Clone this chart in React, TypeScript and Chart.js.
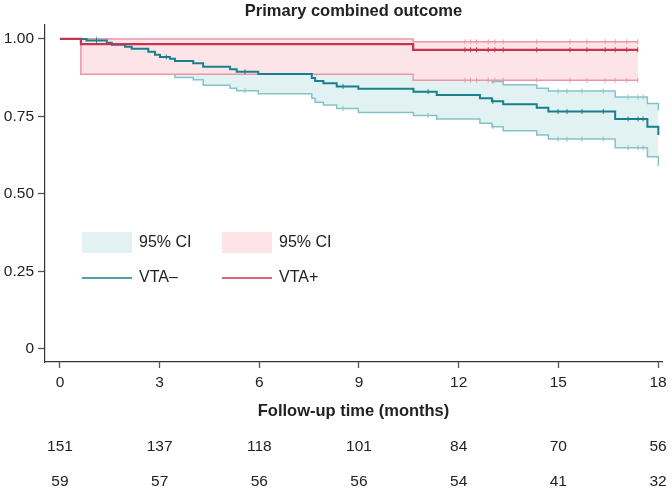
import React, { useEffect, useRef } from "react";
import { Chart, registerables } from "chart.js";

Chart.register(...registerables);

const TITLE = "Primary combined outcome";
const X_TITLE = "Follow-up time (months)";
const xTicks = [0, 3, 6, 9, 12, 15, 18];
const yTicks = [0, 0.25, 0.5, 0.75, 1];
const yTickLabels = ["0", "0.25", "0.50", "0.75", "1.00"];

// VTA– (teal) Kaplan–Meier estimate and 95% CI
const negTimes = [0, 0.8, 1.41, 1.56, 1.96, 2.16, 2.66, 2.86, 3.01, 3.31, 3.46, 4.01, 4.31, 5.12, 5.32, 5.97, 7.58, 7.68, 7.93, 8.33, 8.98, 10.64, 11.34, 12.64, 13.0, 13.34, 14.35, 14.7, 16.71, 17.68, 18.01];
const negSurv = [1.0, 0.995, 0.988, 0.981, 0.975, 0.968, 0.959, 0.949, 0.942, 0.936, 0.929, 0.922, 0.91, 0.902, 0.894, 0.887, 0.874, 0.864, 0.857, 0.847, 0.839, 0.83, 0.819, 0.809, 0.799, 0.789, 0.778, 0.766, 0.742, 0.717, 0.69];
const negLower = [1.0, 0.982, 0.97, 0.96, 0.95, 0.941, 0.928, 0.914, 0.903, 0.89, 0.876, 0.868, 0.851, 0.841, 0.833, 0.823, 0.809, 0.796, 0.787, 0.776, 0.763, 0.753, 0.742, 0.728, 0.717, 0.704, 0.69, 0.677, 0.649, 0.62, 0.59];
const negUpper = [1.0, 1.0, 0.999, 0.996, 0.993, 0.989, 0.983, 0.977, 0.972, 0.968, 0.963, 0.958, 0.95, 0.944, 0.938, 0.932, 0.922, 0.914, 0.908, 0.9, 0.894, 0.887, 0.878, 0.87, 0.863, 0.852, 0.841, 0.832, 0.813, 0.792, 0.77];
const negCensor = [1.1, 3.2, 5.57, 8.52, 11.08, 13.03, 14.99, 15.26, 15.71, 16.35, 17.1, 17.4, 17.55];

// VTA+ (red) Kaplan–Meier estimate and 95% CI
const posTimes = [0, 0.63, 10.63, 17.4];
const posSurv = [1.0, 0.983, 0.965, 0.965];
const posLower = [1.0, 0.886, 0.867, 0.867];
const posUpper = [1.0, 1.0, 0.991, 0.991];
const posCensor = [12.19, 12.36, 12.54, 12.89, 13.09, 13.34, 14.35, 15.35, 15.86, 16.41, 16.71, 17.06, 17.39];

// Numbers at risk
const atRiskNeg = [151, 137, 118, 101, 84, 70, 56];
const atRiskPos = [59, 57, 56, 56, 54, 41, 32];

const legendCI = ["95% CI", "95% CI"];
const legendLines = ["VTA–", "VTA+"];

const TEAL = "#17808b";
const TEAL_CI = "#86c3c8";
const TEAL_FILL = "#e2f2f3";
const RED = "#c8344f";
const RED_CI = "#ec97a7";
const RED_FILL = "#fde4e9";
const FONT = '"Liberation Sans", Arial, Helvetica, sans-serif';

function stepAt(times: number[], vals: number[], t: number) {
  let v = vals[0];
  for (let i = 0; i < times.length; i++) if (times[i] <= t) v = vals[i];
  return v;
}
const pts = (times: number[], vals: number[]) => times.map((t, i) => ({ x: t, y: vals[i] }));
const censorPts = (times: number[], vals: number[], cens: number[]) =>
  cens.map((t) => ({ x: t, y: stepAt(times, vals, t) }));

const stepLine = (data: any[], color: string, width: number, extra: any = {}) => ({
  type: "line",
  data,
  stepped: "before",
  borderColor: color,
  borderWidth: width,
  pointRadius: 0,
  fill: false,
  tension: 0,
  ...extra,
});

const censorSet = (data: any[], color: string) => ({
  type: "line",
  data,
  showLine: false,
  pointStyle: "line",
  rotation: 90,
  pointRadius: 2.5,
  pointBorderWidth: 1,
  borderColor: color,
  pointBorderColor: color,
  backgroundColor: color,
  fill: false,
});

const extrasPlugin = {
  id: "extras",
  afterDraw(chart: any) {
    const { ctx, chartArea } = chart;
    const xs = chart.scales.x;
    ctx.save();
    // numbers at risk
    ctx.font = `15.5px ${FONT}`;
    ctx.fillStyle = "#222";
    ctx.textAlign = "center";
    ctx.textBaseline = "middle";
    xTicks.forEach((t, i) => {
      const px = xs.getPixelForValue(t);
      ctx.fillText(String(atRiskNeg[i]), px, 447);
      ctx.fillText(String(atRiskPos[i]), px, 482);
    });
    // legend
    const fills = [TEAL_FILL, RED_FILL];
    const lines = [TEAL, RED];
    const colX = [chartArea.left + 37, chartArea.left + 177];
    ctx.font = `16px ${FONT}`;
    ctx.textAlign = "left";
    for (let c = 0; c < 2; c++) {
      const x0 = colX[c];
      ctx.fillStyle = fills[c];
      ctx.fillRect(x0, 232, 50, 21);
      ctx.fillStyle = "#222";
      ctx.fillText(legendCI[c], x0 + 57, 242.5);
      ctx.strokeStyle = lines[c];
      ctx.lineWidth = 1.6;
      ctx.beginPath();
      ctx.moveTo(x0, 278);
      ctx.lineTo(x0 + 50, 278);
      ctx.stroke();
      ctx.fillText(legendLines[c], x0 + 57, 278);
    }
    ctx.restore();
  },
};

export default function App() {
  const ref = useRef<HTMLCanvasElement | null>(null);
  useEffect(() => {
    const canvas = ref.current;
    if (!canvas) return;
    // dataset index 0 is drawn on top; fills are drawn just before their own dataset
    const datasets: any[] = [
      censorSet(censorPts(posTimes, posSurv, posCensor), RED), // 0
      censorSet(censorPts(posTimes, posUpper, posCensor), RED_CI), // 1
      censorSet(censorPts(posTimes, posLower, posCensor), RED_CI), // 2
      stepLine(pts(posTimes, posSurv), RED, 2.2), // 3
      censorSet(censorPts(negTimes, negSurv, negCensor), TEAL), // 4
      stepLine(pts(negTimes, negSurv), TEAL, 2), // 5
      stepLine(pts(posTimes, posUpper), RED_CI, 1.5), // 6
      stepLine(pts(posTimes, posLower), RED_CI, 1.5, { fill: 6, backgroundColor: RED_FILL }), // 7
      censorSet(censorPts(negTimes, negUpper, negCensor), TEAL_CI), // 8
      censorSet(censorPts(negTimes, negLower, negCensor), TEAL_CI), // 9
      stepLine(pts(negTimes, negUpper), TEAL_CI, 1.5), // 10
      stepLine(pts(negTimes, negLower), TEAL_CI, 1.5, { fill: 10, backgroundColor: TEAL_FILL }), // 11
    ];
    const chart = new Chart(canvas, {
      type: "line",
      data: { datasets },
      plugins: [extrasPlugin],
      options: {
        animation: false,
        responsive: false,
        devicePixelRatio: 1,
        events: [],
        layout: { padding: { left: 0, right: 10, top: 0, bottom: 71 } },
        plugins: {
          legend: { display: false },
          tooltip: { enabled: false },
          title: {
            display: true,
            text: TITLE,
            fullSize: false,
            color: "#222",
            font: { family: FONT, size: 16.5, weight: "bold", lineHeight: 1.2 },
            padding: { top: 2, bottom: 3.2 },
          },
          filler: { drawTime: "beforeDatasetDraw" },
        },
        scales: {
          x: {
            type: "linear",
            min: -0.45,
            max: 18.12,
            afterBuildTicks: (axis: any) => {
              axis.ticks = xTicks.map((v) => ({ value: v }));
            },
            afterFit: (axis: any) => {
              axis.height = 59;
            },
            ticks: {
              color: "#222",
              font: { family: FONT, size: 15.5, lineHeight: 1.2 },
              padding: 5,
              maxRotation: 0,
              autoSkip: false,
              callback: (v: any) => String(v),
            },
            grid: { drawOnChartArea: false, drawTicks: true, tickLength: 6, tickColor: "#555", tickWidth: 1.3 },
            border: { display: true, color: "#333", width: 1.2 },
            title: {
              display: true,
              text: X_TITLE,
              color: "#222",
              font: { family: FONT, size: 16.5, weight: "bold", lineHeight: 1.2 },
              padding: { top: 0, bottom: 0 },
            },
          },
          y: {
            type: "linear",
            min: -0.042,
            max: 1.045,
            afterBuildTicks: (axis: any) => {
              axis.ticks = yTicks.map((v) => ({ value: v }));
            },
            afterFit: (axis: any) => {
              axis.width = 45;
            },
            ticks: {
              color: "#222",
              font: { family: FONT, size: 15.5, lineHeight: 1.2 },
              padding: 4,
              autoSkip: false,
              callback: (v: any) => {
                const i = yTicks.indexOf(Number(v));
                return i >= 0 ? yTickLabels[i] : "";
              },
            },
            grid: { drawOnChartArea: false, drawTicks: true, tickLength: 7, tickColor: "#555", tickWidth: 1.3 },
            border: { display: true, color: "#333", width: 1.2 },
          },
        },
      } as any,
    });
    return () => chart.destroy();
  }, []);
  return (
    <div style={{ position: "absolute", left: 0, top: 0, width: 672, height: 492, background: "#fff" }}>
      <canvas ref={ref} width={672} height={492} style={{ display: "block" }} />
    </div>
  );
}
